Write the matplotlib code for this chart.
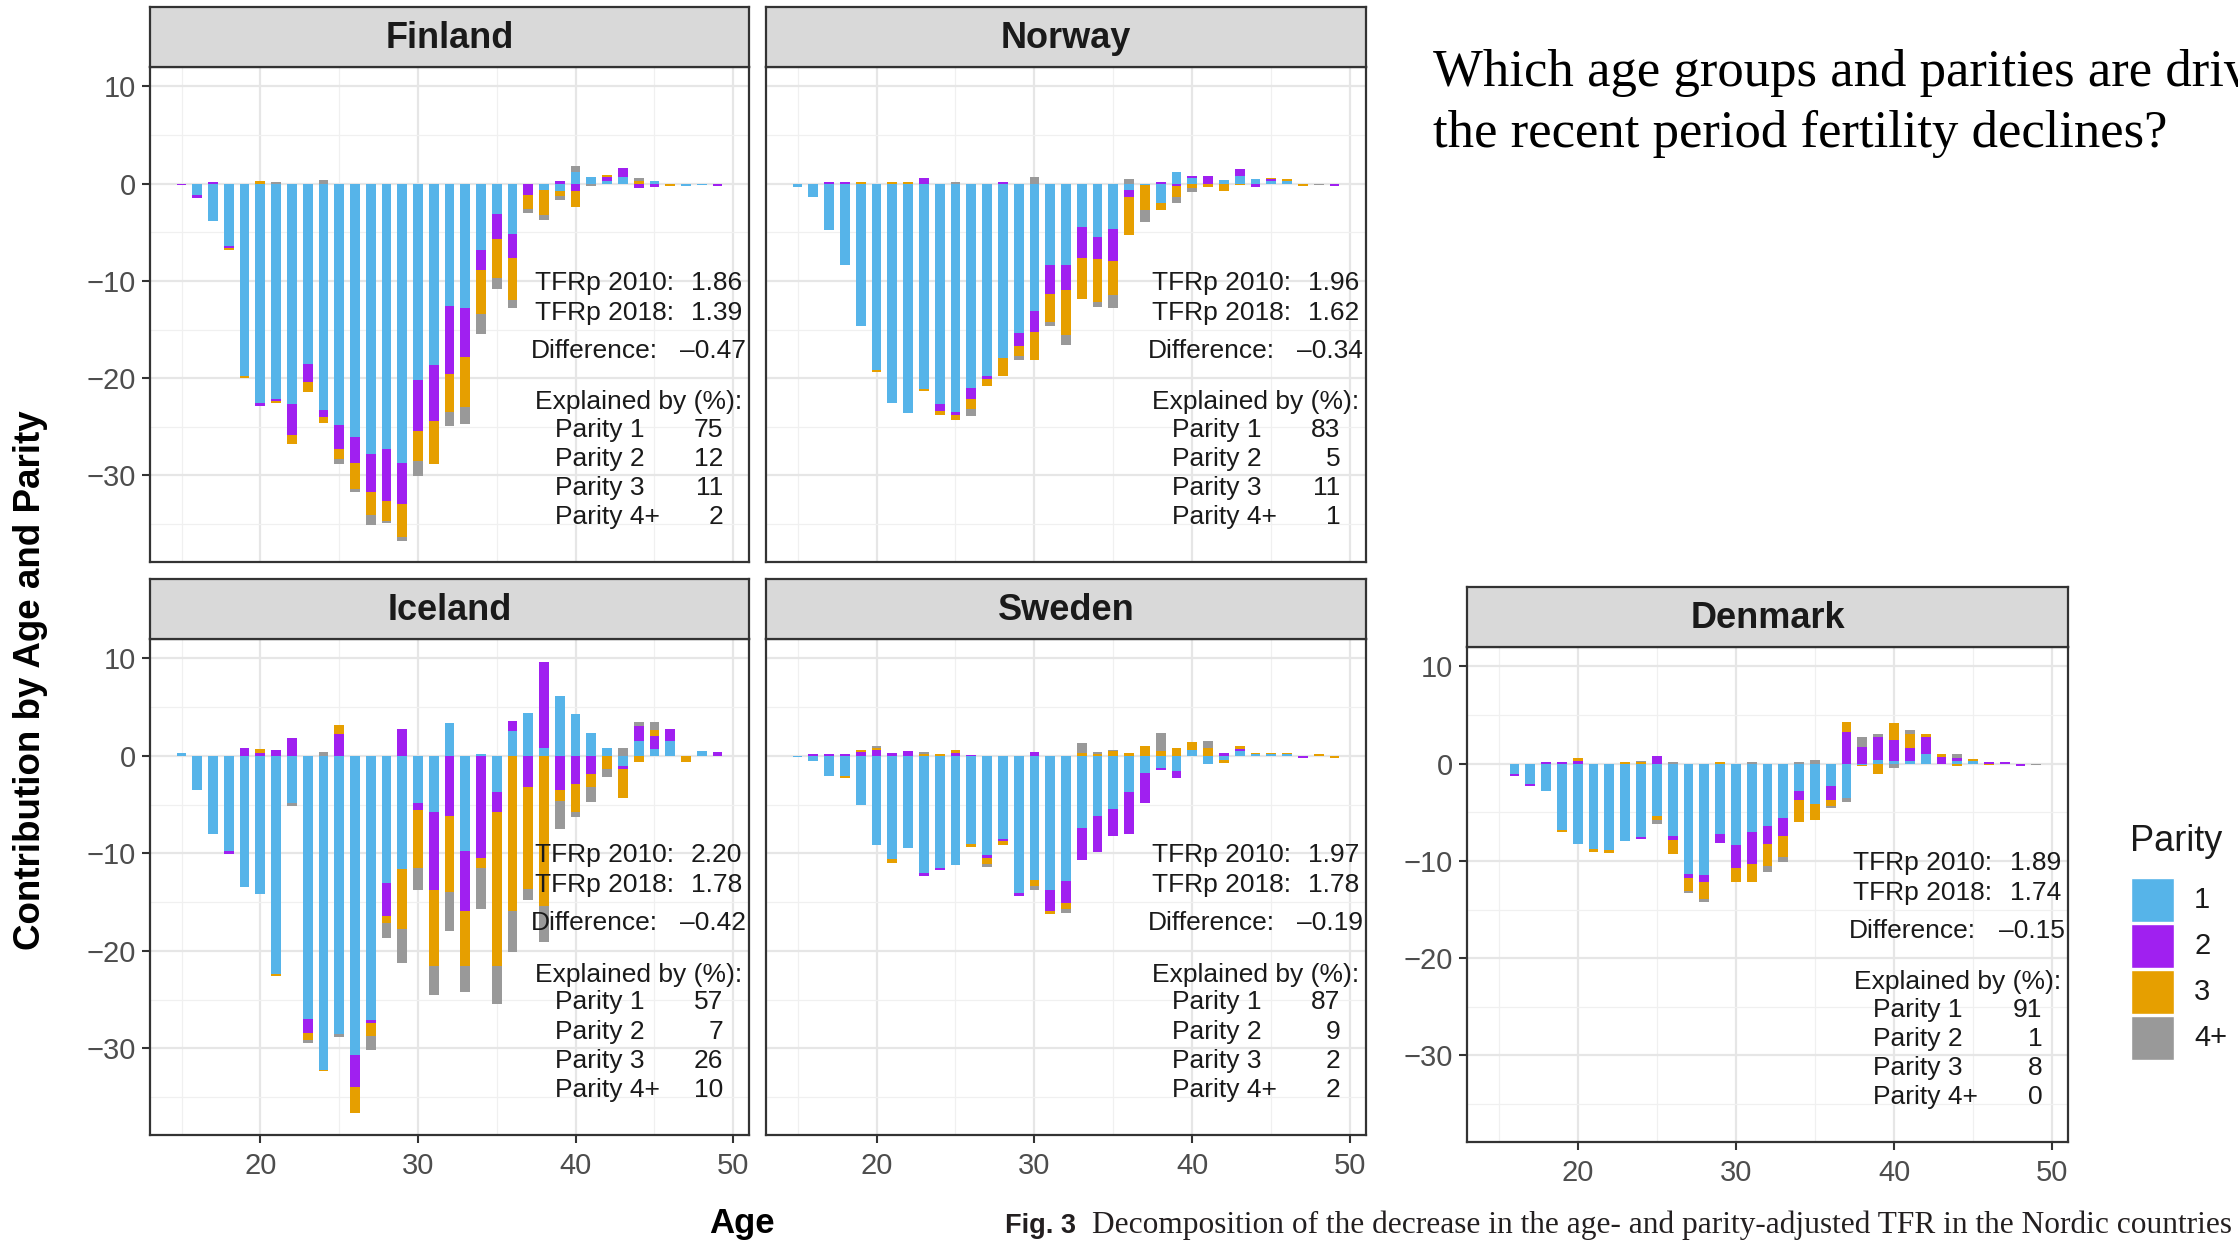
import matplotlib
matplotlib.use("Agg")
import matplotlib.pyplot as plt
import numpy as np
from matplotlib import font_manager
from matplotlib.patches import Rectangle

# --- data: contribution by age (15-49) and parity, per country ---
AGES = list(range(15, 50))
COUNTRIES = ["Finland", "Norway", "Iceland", "Sweden", "Denmark"]
PARITY_LABELS = ["1", "2", "3", "4+"]
PARITY_COLORS = ["#56B4E9", "#A020F0", "#E69F00", "#999999"]

FIN_P1 = [-0.05, -1.2, -3.85, -6.4, -19.8, -22.6, -22.1, -22.7, -18.5, -23.3, -24.8, -26.0, -27.8, -27.3, -28.7,
          -20.2, -18.6, -12.6, -12.8, -6.8, -3.1, -5.2, 0.0, -0.6, -0.7, 1.2, 0.65, 0.25, 0.65, 0.0, 0.25, 0.0, -0.2, -0.15, 0.0]
FIN_P2 = [-0.1, -0.3, 0.2, -0.2, 0.0, -0.25, -0.2, -3.1, -1.9, -0.65, -2.5, -2.7, -3.9, -5.3, -4.2,
          -5.2, -5.8, -7.0, -5.0, -2.1, -2.6, -2.4, -1.2, 0.0, 0.25, -0.8, 0.0, 0.45, 0.95, -0.4, -0.3, 0.0, 0.0, 0.0, -0.25]
FIN_P3 = [0.0, 0.0, 0.0, -0.2, -0.2, 0.25, -0.2, -0.95, -1.0, -0.65, -1.0, -2.7, -2.4, -2.1, -3.4,
          -3.1, -4.4, -3.9, -5.2, -4.5, -4.0, -4.4, -1.4, -2.6, -0.55, -1.6, 0.0, 0.2, 0.0, 0.25, 0.0, -0.2, 0.0, 0.0, 0.0]
FIN_P4 = [0.0, 0.0, 0.0, 0.0, 0.0, 0.0, 0.2, 0.0, 0.0, 0.4, -0.5, -0.3, -1.0, -0.2, -0.4,
          -1.6, 0.0, -1.4, -1.7, -2.1, -1.1, -0.75, -0.4, -0.5, -0.4, 0.65, -0.2, 0.0, 0.0, 0.3, 0.0, 0.0, 0.0, 0.0, 0.0]

NOR_P1 = [-0.3, -1.4, -4.8, -8.4, -14.6, -19.2, -22.6, -23.6, -21.1, -22.7, -23.5, -21.0, -19.8, -17.9, -15.4,
          -13.1, -8.4, -8.4, -4.5, -5.5, -4.7, -0.6, -0.15, -2.0, 1.25, 0.55, 0.0, 0.35, 0.8, 0.45, 0.3, 0.3, 0.0, 0.0, 0.0]
NOR_P2 = [0.0, 0.0, 0.15, 0.15, 0.0, 0.0, 0.0, 0.0, 0.55, -0.65, -0.25, -1.1, -0.25, 0.2, -1.3,
          -2.1, -2.9, -2.5, -3.1, -2.2, -3.3, -0.8, 0.0, 0.15, -0.2, 0.25, 0.75, 0.0, 0.75, -0.35, 0.15, 0.0, 0.0, 0.0, -0.2]
NOR_P3 = [0.0, 0.0, 0.0, 0.0, 0.15, -0.2, 0.2, 0.2, -0.2, -0.45, -0.55, -1.05, -0.75, -1.9, -1.05,
          -2.9, -2.9, -4.7, -4.3, -4.5, -3.4, -3.9, -2.6, -0.75, -1.2, -0.4, -0.3, -0.75, -0.15, 0.0, 0.15, 0.2, -0.2, 0.0, 0.0]
NOR_P4 = [0.0, 0.0, 0.0, 0.0, 0.0, 0.0, 0.0, 0.0, 0.0, 0.0, 0.15, -0.75, 0.0, 0.0, -0.4,
          0.65, -0.4, -1.0, 0.0, -0.45, -1.4, 0.45, -1.2, 0.0, -0.55, -0.5, 0.0, 0.0, 0.0, 0.0, 0.0, 0.0, 0.0, -0.1, 0.0]

ICE_P1 = [0.3, -3.5, -8.0, -9.75, -13.4, -14.2, -22.4, -4.8, -27.0, -32.2, -28.5, -30.7, -27.1, -13.0, -11.6,
          -4.8, -5.8, 3.4, -9.75, 0.15, -3.7, 2.6, 4.45, 0.8, 6.1, 4.3, 2.4, 0.8, -1.0, 1.55, 0.7, 1.55, 0.0, 0.5, 0.0]
ICE_P2 = [0.0, 0.0, 0.0, -0.35, 0.8, 0.3, 0.6, 1.8, -1.45, 0.0, 2.2, -3.3, -0.35, -3.4, 2.8,
          -0.75, -8.0, -6.2, -6.2, -10.5, -2.1, 1.0, -3.15, 8.8, -3.5, -2.9, -1.9, 0.0, -0.35, 1.55, 1.35, 1.25, 0.0, 0.0, 0.45]
ICE_P3 = [0.0, 0.0, 0.0, 0.0, 0.0, 0.45, -0.15, 0.0, -0.7, -0.15, 1.0, -2.65, -1.3, -0.7, -6.2,
          -6.0, -7.8, -7.8, -5.6, -1.0, -15.8, -15.9, -10.5, -15.4, -1.1, -2.9, -1.25, -1.3, -3.0, -0.6, 0.6, 0.0, -0.6, 0.0, 0.0]
ICE_P4 = [0.0, 0.0, 0.0, 0.0, 0.0, 0.0, 0.0, -0.35, -0.3, 0.4, -0.3, 0.0, -1.45, -1.55, -3.4,
          -2.2, -2.95, -4.0, -2.7, -4.2, -3.9, -4.2, -1.1, -3.7, -2.9, -0.5, -1.6, -0.9, 0.8, 0.4, 0.85, 0.0, 0.0, 0.0, 0.0]

SWE_P1 = [-0.1, -0.55, -2.05, -2.1, -5.0, -9.1, -10.6, -9.4, -12.05, -11.5, -11.2, -9.0, -10.2, -8.5, -14.1,
          -12.7, -13.8, -12.85, -7.35, -6.15, -5.4, -3.7, -1.7, -1.2, -1.55, 0.6, -0.85, -0.4, 0.5, 0.2, 0.2, 0.2, 0.0, 0.0, 0.0]
SWE_P2 = [0.0, 0.15, 0.15, 0.15, 0.4, 0.6, 0.35, 0.5, -0.3, -0.25, 0.3, 0.1, -0.25, -0.25, -0.3,
          0.4, -2.1, -2.2, -3.3, -3.75, -2.8, -4.35, -3.1, -0.25, -0.7, 0.0, 0.0, 0.35, 0.25, 0.0, 0.0, 0.0, -0.2, 0.0, 0.0]
SWE_P3 = [0.0, 0.0, 0.0, -0.2, 0.2, 0.25, -0.35, 0.0, 0.2, 0.15, 0.3, -0.3, -0.6, -0.35, 0.0,
          -0.6, -0.35, -0.7, 0.35, 0.2, 0.5, 0.35, 1.0, 0.5, 0.85, 0.85, 0.8, -0.3, 0.3, 0.15, 0.1, 0.1, 0.0, 0.2, -0.2]
SWE_P4 = [0.0, 0.0, 0.0, 0.0, 0.0, 0.15, 0.0, 0.0, 0.25, 0.0, 0.0, 0.0, -0.3, 0.0, 0.0,
          -0.5, 0.0, -0.35, 1.0, 0.25, 0.15, 0.0, 0.0, 1.9, 0.0, 0.0, 0.75, 0.0, 0.0, 0.0, 0.0, 0.0, 0.0, 0.0, 0.0]

DEN_P1 = [-0.05, -1.05, -2.05, -2.85, -6.85, -8.25, -8.75, -8.9, -7.95, -7.5, -5.4, -7.45, -11.3, -11.4, -7.25,
          -8.4, -7.05, -6.4, -5.6, -2.85, -4.15, -2.25, -3.55, -0.1, 0.4, 0.25, 0.25, 1.0, 0.0, 0.3, 0.3, 0.0, 0.0, 0.0, 0.0]
DEN_P2 = [0.0, -0.2, -0.25, 0.2, 0.2, 0.3, 0.0, 0.0, 0.0, -0.2, 0.8, -0.4, -0.45, -0.8, -0.9,
          -2.3, -3.25, -1.9, -1.85, -0.9, 0.0, -1.5, 3.25, 1.7, 2.3, 2.2, 1.4, 1.7, 0.7, 0.3, 0.0, 0.2, 0.2, -0.2, 0.0]
DEN_P3 = [0.0, 0.0, 0.0, 0.0, -0.2, 0.25, -0.3, -0.3, 0.2, 0.15, -0.4, -1.4, -1.35, -1.7, 0.2,
          -1.45, -1.85, -2.25, -2.1, -2.25, -1.65, -0.6, 1.05, -0.15, -1.05, 1.7, 1.45, 0.4, 0.3, -0.2, 0.15, -0.15, 0.0, 0.0, 0.0]
DEN_P4 = [0.0, 0.0, 0.0, 0.0, 0.0, 0.0, 0.0, 0.0, 0.0, 0.15, -0.4, 0.15, -0.2, -0.3, 0.0,
          0.0, 0.15, -0.6, -0.6, 0.15, 0.4, -0.2, -0.35, 1.0, 0.4, -0.4, 0.4, 0.0, 0.0, 0.35, 0.0, 0.0, 0.0, 0.0, -0.1]

TFRP_2010 = [1.86, 1.96, 2.20, 1.97, 1.89]
TFRP_2018 = [1.39, 1.62, 1.78, 1.78, 1.74]
DIFFERENCE = [-0.47, -0.34, -0.42, -0.19, -0.15]
EXPLAINED = [[75, 12, 11, 2], [83, 5, 11, 1], [57, 7, 26, 10], [87, 9, 2, 2], [91, 1, 8, 0]]

SERIES = {
    "Finland": [FIN_P1, FIN_P2, FIN_P3, FIN_P4],
    "Norway": [NOR_P1, NOR_P2, NOR_P3, NOR_P4],
    "Iceland": [ICE_P1, ICE_P2, ICE_P3, ICE_P4],
    "Sweden": [SWE_P1, SWE_P2, SWE_P3, SWE_P4],
    "Denmark": [DEN_P1, DEN_P2, DEN_P3, DEN_P4],
}

# --- layout (pixels on a 2238 x 1242 canvas) ---
W, H = 2238, 1242
PANELS = {
    # name: (left, top, right, bottom, show_y, show_x)
    "Finland": (150, 67, 749, 562, True, False),
    "Norway": (766, 67, 1366, 562, False, False),
    "Iceland": (150, 639, 749, 1135, True, True),
    "Sweden": (766, 639, 1366, 1135, False, True),
    "Denmark": (1467, 647, 2068, 1142, True, True),
}
STRIP_H = 60
XLIM = (13.0, 51.0)
YLIM = (-38.9, 12.0)
INK = "#1A1A1A"
FRAME = "#333333"


def pick_family(*names):
    installed = {f.name for f in font_manager.fontManager.ttflist}
    for n in names:
        if n in installed:
            return n
    return "DejaVu Sans"


SANS = pick_family("Liberation Sans", "Arial")
NARROW = pick_family("Liberation Sans Narrow", "Liberation Sans")
SERIF = pick_family("Liberation Serif", "DejaVu Serif")
plt.rcParams["font.family"] = [SANS, "DejaVu Sans"]


def box(left, top, right, bottom):
    return [left / W, 1 - bottom / H, (right - left) / W, (bottom - top) / H]


def stacked_bars(ax, series):
    pos = np.zeros(len(AGES))
    neg = np.zeros(len(AGES))
    for vals, col in zip(series, PARITY_COLORS):
        v = np.asarray(vals, dtype=float)
        base = np.where(v >= 0, pos, neg)
        ax.bar(AGES, v, bottom=base, width=0.62, color=col, linewidth=0, zorder=2)
        pos += np.clip(v, 0, None)
        neg += np.clip(v, None, 0)


def annotate_panel(ax, i):
    kw = dict(fontsize=19, color=INK, va="baseline", zorder=3)
    ax.text(37.43, -10.9, "TFRp 2010:", ha="left", **kw)
    ax.text(50.56, -10.9, f"{TFRP_2010[i]:.2f}", ha="right", **kw)
    ax.text(37.43, -14.0, "TFRp 2018:", ha="left", **kw)
    ax.text(50.56, -14.0, f"{TFRP_2018[i]:.2f}", ha="right", **kw)
    ax.text(37.16, -17.9, "Difference:", ha="left", **kw)
    ax.text(50.83, -17.9, f"{DIFFERENCE[i]:.2f}".replace("-", "\u2013"), ha="right", **kw)
    ax.text(44.0, -23.2, "Explained by (%):", ha="center", **kw)
    for k, (lab, pct) in enumerate(zip(PARITY_LABELS, EXPLAINED[i])):
        y = -26.0 - 3.0 * k
        ax.text(38.7, y, f"Parity {lab}", ha="left", **kw)
        ax.text(49.38, y, f"{pct}", ha="right", **kw)


fig = plt.figure(figsize=(W / 100, H / 100), dpi=100)
fig.patch.set_facecolor("white")

for i, name in enumerate(COUNTRIES):
    left, top, right, bottom, show_y, show_x = PANELS[name]
    ax = fig.add_axes(box(left, top, right, bottom))
    ax.set_facecolor("white")
    stacked_bars(ax, SERIES[name])
    ax.set_xlim(*XLIM)
    ax.set_ylim(*YLIM)

    ax.set_xticks([20, 30, 40, 50])
    ax.set_xticks([15, 25, 35, 45], minor=True)
    ax.set_yticks([-30, -20, -10, 0, 10])
    ax.set_yticks([-35, -25, -15, -5, 5], minor=True)
    ax.set_yticklabels(["\u221230", "\u221220", "\u221210", "0", "10"])
    ax.grid(which="major", color="#E6E6E6", linewidth=1.6, zorder=0)
    ax.grid(which="minor", color="#F0F0F0", linewidth=0.9, zorder=0)
    ax.set_axisbelow(True)
    ax.tick_params(which="minor", length=0)
    ax.tick_params(which="major", length=6, width=1.5, color=FRAME,
                   labelsize=21, labelcolor="#4D4D4D", pad=4)
    ax.tick_params(axis="y", left=show_y, labelleft=show_y)
    ax.tick_params(axis="x", bottom=show_x, labelbottom=show_x, pad=6)
    for sp in ax.spines.values():
        sp.set_color(FRAME)
        sp.set_linewidth(1.6)

    annotate_panel(ax, i)

    # facet strip
    sax = fig.add_axes(box(left, top - STRIP_H, right, top))
    sax.set_facecolor("#D9D9D9")
    sax.set_xticks([])
    sax.set_yticks([])
    for sp in sax.spines.values():
        sp.set_color(FRAME)
        sp.set_linewidth(1.6)
    sax.text(0.5, 0.47, name, transform=sax.transAxes, ha="center", va="center",
             fontsize=26, fontweight="bold", color=INK)

# shared axis titles
fig.text(31 / W, 1 - 680 / H, "Contribution by Age and Parity", rotation=90,
         ha="center", va="center", fontsize=26.5, fontweight="bold", color="black",
         family=[NARROW, "DejaVu Sans"])
fig.text(742 / W, 1 - 1233 / H, "Age", ha="center", va="baseline",
         fontsize=25, fontweight="bold", color="black")

# legend
fig.text(2130 / W, 1 - 851 / H, "Parity", ha="left", va="baseline", fontsize=26, color=INK)
key_top = 878
for k, (lab, col) in enumerate(zip(PARITY_LABELS, PARITY_COLORS)):
    y0 = key_top + k * 46
    fig.patches.append(Rectangle((2131 / W, 1 - (y0 + 44) / H), 43 / W, 44 / H,
                                 transform=fig.transFigure, facecolor=col,
                                 edgecolor="white", linewidth=1))
    fig.text(2194 / W, 1 - (y0 + 22) / H, lab, ha="left", va="center", fontsize=21, color=INK)

# slide heading and figure caption
fig.text(1433 / W, 1 - 86 / H, "Which age groups and parities are driving",
         ha="left", va="baseline", fontsize=38, family=[SERIF], color="black")
fig.text(1433 / W, 1 - 147 / H, "the recent period fertility declines?",
         ha="left", va="baseline", fontsize=38, family=[SERIF], color="black")
fig.text(1005 / W, 1 - 1233 / H, "Fig. 3", ha="left", va="baseline", fontsize=19.5,
         fontweight="bold", family=[NARROW, "DejaVu Sans"], color="#231F20")
fig.text(1092 / W, 1 - 1233 / H,
         "Decomposition of the decrease in the age- and parity-adjusted TFR in the Nordic countries",
         ha="left", va="baseline", fontsize=22.6, family=[SERIF], color="#231F20")

fig.savefig("out.png", dpi=100)
